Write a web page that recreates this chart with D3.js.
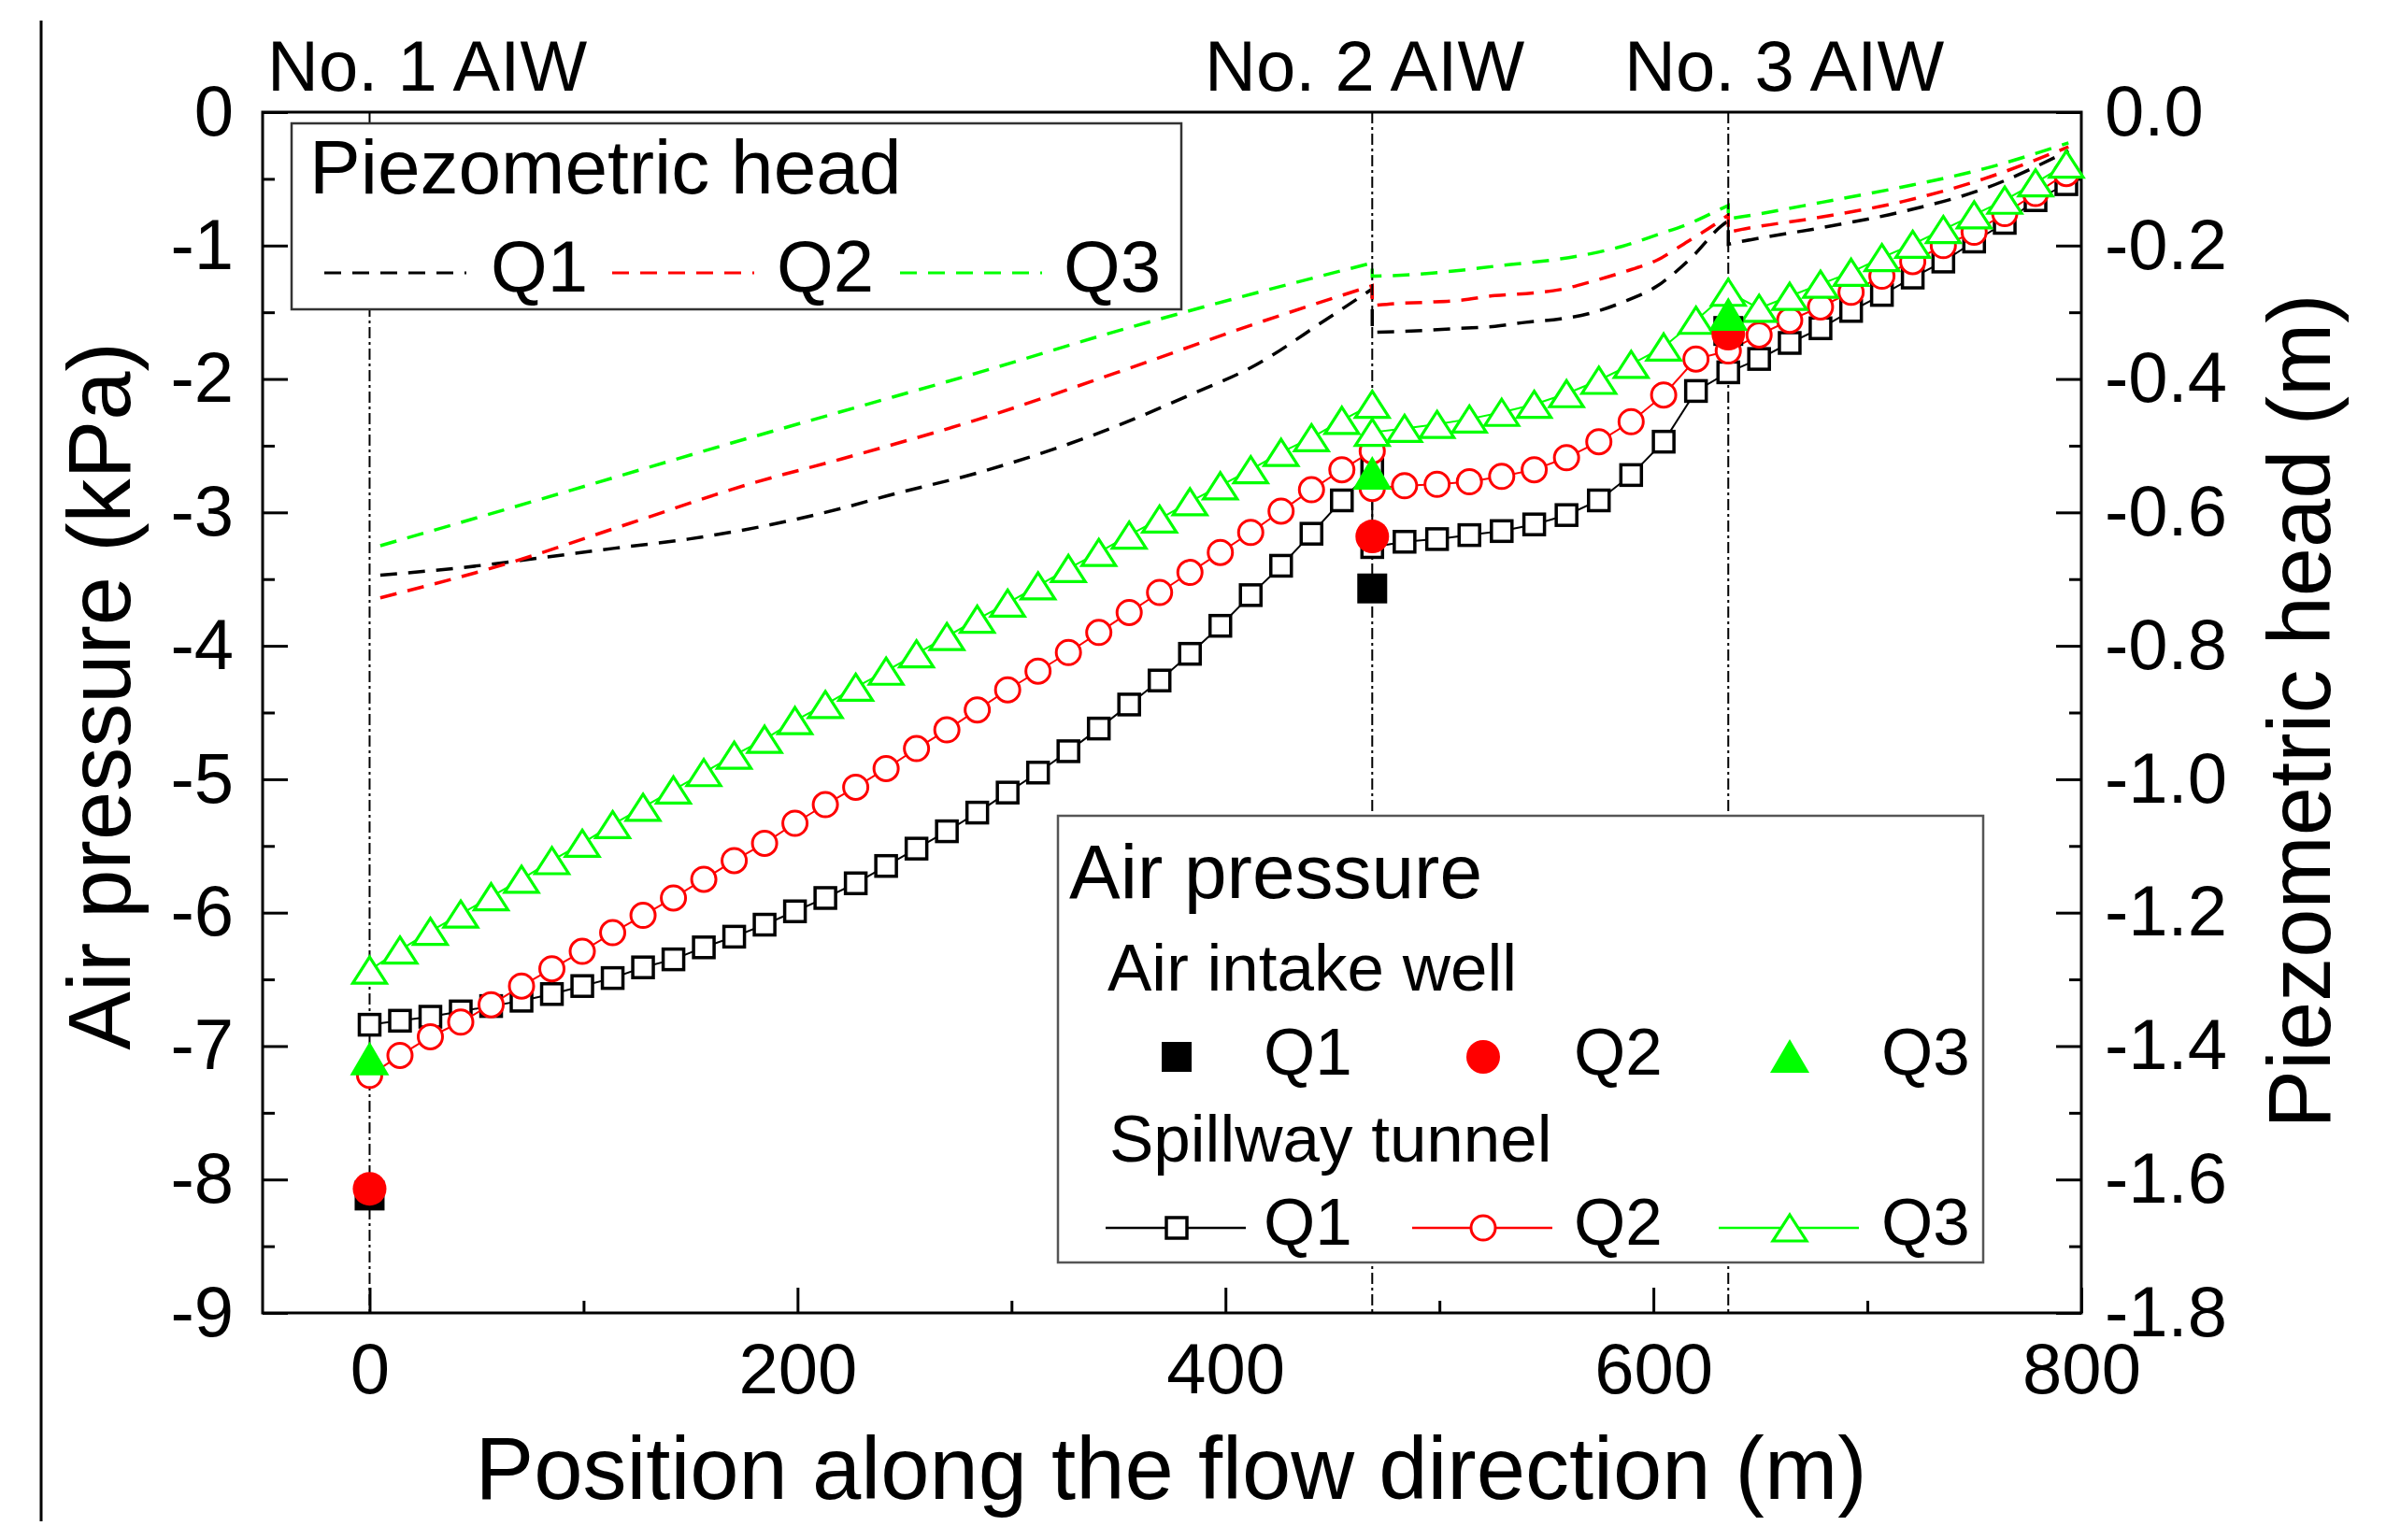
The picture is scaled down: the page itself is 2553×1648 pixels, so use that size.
<!DOCTYPE html>
<html><head><meta charset="utf-8">
<script src="https://cdn.jsdelivr.net/npm/d3@7"></script>
<style>
body{margin:0;background:#fff}
svg{display:block}
text{font-family:"Liberation Sans",Arial,Helvetica,sans-serif;fill:#000}
</style>
</head><body>
<svg id="chart" width="2553" height="1648"></svg>
<script>
// ---------------- DATA ----------------
// Spillway tunnel measuring positions (m); 468.6 appears twice (upstream / downstream of No. 2 AIW)
const tunnelX = [0, 14.2, 28.4, 42.6, 56.8, 71, 85.2, 99.4, 113.6, 127.8, 142, 156.2, 170.4, 184.6, 198.8,
  213, 227.2, 241.4, 255.6, 269.8, 284, 298.2, 312.4, 326.6, 340.8, 355, 369.2, 383.4, 397.6, 411.8, 426,
  440.2, 454.4, 468.6, 468.6, 483.7, 498.9, 514, 529.1, 544.3, 559.4, 574.5, 589.6, 604.8, 619.9, 635,
  649.4, 663.7, 678.1, 692.4, 706.8, 721.2, 735.5, 749.9, 764.2, 778.6, 793];
// Air pressure in spillway tunnel (kPa)
const tunnelQ1 = [-6.84, -6.81, -6.78, -6.74, -6.70, -6.66, -6.61, -6.55, -6.49, -6.41, -6.35, -6.26, -6.18, -6.09, -5.99,
  -5.89, -5.78, -5.65, -5.52, -5.39, -5.25, -5.10, -4.95, -4.79, -4.62, -4.44, -4.26, -4.06, -3.85, -3.62, -3.40,
  -3.16, -2.91, -2.68, -3.26, -3.22, -3.20, -3.17, -3.14, -3.09, -3.02, -2.91, -2.72, -2.47, -2.09, -1.95,
  -1.85, -1.73, -1.62, -1.49, -1.37, -1.24, -1.12, -0.97, -0.83, -0.66, -0.54];
const tunnelQ2 = [-7.22, -7.07, -6.93, -6.82, -6.69, -6.55, -6.42, -6.29, -6.15, -6.02, -5.89, -5.75, -5.61, -5.48, -5.33,
  -5.19, -5.06, -4.92, -4.77, -4.63, -4.48, -4.33, -4.19, -4.05, -3.90, -3.75, -3.60, -3.45, -3.30, -3.15, -2.99,
  -2.83, -2.68, -2.54, -2.82, -2.80, -2.79, -2.77, -2.73, -2.68, -2.59, -2.47, -2.32, -2.12, -1.85, -1.79,
  -1.67, -1.56, -1.46, -1.35, -1.23, -1.12, -1.00, -0.90, -0.76, -0.61, -0.46];
const tunnelQ3 = [-6.43, -6.28, -6.14, -6.01, -5.88, -5.75, -5.61, -5.48, -5.34, -5.21, -5.08, -4.95, -4.82, -4.70, -4.56,
  -4.44, -4.31, -4.19, -4.06, -3.93, -3.80, -3.68, -3.55, -3.42, -3.30, -3.17, -3.05, -2.92, -2.80, -2.68, -2.55,
  -2.44, -2.31, -2.19, -2.40, -2.37, -2.34, -2.30, -2.25, -2.19, -2.11, -2.01, -1.89, -1.76, -1.56, -1.35,
  -1.47, -1.38, -1.29, -1.20, -1.09, -0.99, -0.88, -0.77, -0.66, -0.53, -0.39];

// Air intake wells (AIW)
const aiwX = [0, 468.6, 635];
const aiwLabels = ["No. 1 AIW", "No. 2 AIW", "No. 3 AIW"];
const aiwQ1 = [-8.12, -3.57, -1.64];
const aiwQ2 = [-8.07, -3.18, -1.66];
const aiwQ3 = [-7.10, -2.71, -1.52];

// Piezometric head (m), right axis; repeated x = jump at an AIW
const piezoQ1X = [5, 42.5, 78, 113.8, 149, 185, 220.5, 242, 285, 349.6, 381.9, 414.2, 446.5, 468.6,
  468.6, 479.4, 494, 510, 526, 540.5, 556.5, 571, 585.6, 601.6, 617.5, 632, 635,
  635, 641, 679, 716.6, 754.4, 794];
const piezoQ1 = [-0.694, -0.683, -0.669, -0.654, -0.640, -0.620, -0.594, -0.575, -0.540, -0.470, -0.426, -0.379, -0.312, -0.265,
  -0.330, -0.329, -0.327, -0.324, -0.321, -0.315, -0.310, -0.301, -0.285, -0.261, -0.219, -0.170, -0.163,
  -0.198, -0.194, -0.173, -0.149, -0.115, -0.058];
const piezoQ2X = [5, 64, 121, 178, 220.4, 285, 349.6, 414.2, 468.6,
  468.6, 479.4, 494, 510, 526, 540.5, 556.5, 571, 585.6, 601.6, 616, 632, 635,
  635, 641, 679, 716.6, 754.4, 794];
const piezoQ2 = [-0.728, -0.677, -0.617, -0.557, -0.520, -0.460, -0.390, -0.317, -0.260,
  -0.290, -0.287, -0.285, -0.282, -0.275, -0.272, -0.266, -0.254, -0.240, -0.222, -0.194, -0.161, -0.154,
  -0.180, -0.176, -0.157, -0.134, -0.100, -0.052];
const piezoQ3X = [5, 78, 167, 220.4, 285, 349.6, 414.2, 468.6,
  468.6, 478, 494, 510, 526, 540.5, 556.5, 571, 585.6, 601.6, 616, 633.6, 635,
  635, 641, 679, 716.6, 754.4, 794];
const piezoQ3 = [-0.650, -0.582, -0.498, -0.449, -0.390, -0.328, -0.271, -0.226,
  -0.246, -0.245, -0.242, -0.237, -0.231, -0.226, -0.220, -0.212, -0.201, -0.184, -0.168, -0.142, -0.140,
  -0.160, -0.157, -0.135, -0.112, -0.085, -0.046];

// Axes ticks
const xTicks = [0, 200, 400, 600, 800];
const xMinor = [100, 300, 500, 700];
const yTicks = [0, -1, -2, -3, -4, -5, -6, -7, -8, -9];
const yMinor = [-0.5, -1.5, -2.5, -3.5, -4.5, -5.5, -6.5, -7.5, -8.5];
const yRTicks = [0, -0.2, -0.4, -0.6, -0.8, -1.0, -1.2, -1.4, -1.6, -1.8];
const yRMinor = [-0.1, -0.3, -0.5, -0.7, -0.9, -1.1, -1.3, -1.5, -1.7];

const seriesNames = ["Q1", "Q2", "Q3"];
const colors = ["#000000", "#ff0000", "#00ff00"];

// ---------------- CHART ----------------
const svg = d3.select("#chart");
const M = {l: 281, r: 2227, t: 120, b: 1405};
const x = d3.scaleLinear().domain([-50, 800]).range([M.l, M.r]);
const y = d3.scaleLinear().domain([-9, 0]).range([M.b, M.t]);
const yR = d3.scaleLinear().domain([-1.8, 0]).range([M.b, M.t]);

svg.append("rect").attr("width", 2553).attr("height", 1648).attr("fill", "#fff");
// outer border line at left of image
svg.append("line").attr("x1", 44).attr("x2", 44).attr("y1", 22).attr("y2", 1628)
  .attr("stroke", "#000").attr("stroke-width", 3);

// piezometric head dashed lines: smooth within each reach, vertical jump at AIWs
const piezo = [[piezoQ1X, piezoQ1], [piezoQ2X, piezoQ2], [piezoQ3X, piezoQ3]];
const lineR = d3.line().x(d => x(d[0])).y(d => yR(d[1])).curve(d3.curveMonotoneX);
piezo.forEach((p, i) => {
  const pts = d3.zip(p[0], p[1]);
  const segs = [[]];
  pts.forEach((pt, k) => {
    if (k > 0 && pt[0] === pts[k - 1][0]) segs.push([]);
    segs[segs.length - 1].push(pt);
  });
  const d = segs.map((s, k) => {
    const str = lineR(s);
    return k === 0 ? str : "L" + str.slice(1);
  }).join("");
  svg.append("path").attr("d", d)
    .attr("fill", "none").attr("stroke", colors[i]).attr("stroke-width", 3.5)
    .attr("stroke-dasharray", "18,12");
});

// AIW vertical dash-dot lines
svg.selectAll(".aiwline").data(aiwX).enter().append("line")
  .attr("x1", d => x(d)).attr("x2", d => x(d)).attr("y1", M.t).attr("y2", M.b)
  .attr("stroke", "#000").attr("stroke-width", 2).attr("stroke-dasharray", "12,4,3,4");

// AIW labels
const aiwLabelX = [286, 1289, 1738];
svg.selectAll(".aiwlab").data(aiwLabels).enter().append("text")
  .attr("x", (d, i) => aiwLabelX[i]).attr("y", 97).attr("font-size", 76).text(d => d);

// axes
function styleAxis(g, fs) {
  g.select(".domain").remove();
  g.selectAll(".tick line").attr("stroke", "#000").attr("stroke-width", 3);
  g.selectAll(".tick text").attr("font-size", fs).attr("fill", "#000")
    .style("font-family", '"Liberation Sans",Arial,sans-serif');
}
const gL = svg.append("g").attr("transform", `translate(${M.l},0)`)
  .call(d3.axisLeft(y).tickValues(yTicks).tickSize(-27).tickSizeOuter(0).tickPadding(31).tickFormat(d => String(d)));
styleAxis(gL, 76);
const gLm = svg.append("g").attr("transform", `translate(${M.l},0)`)
  .call(d3.axisLeft(y).tickValues(yMinor).tickSize(-13).tickSizeOuter(0).tickFormat(""));
styleAxis(gLm, 76);
const gR = svg.append("g").attr("transform", `translate(${M.r},0)`)
  .call(d3.axisRight(yR).tickValues(yRTicks).tickSize(-27).tickSizeOuter(0).tickPadding(25).tickFormat(d => d.toFixed(1)));
styleAxis(gR, 76);
const gRm = svg.append("g").attr("transform", `translate(${M.r},0)`)
  .call(d3.axisRight(yR).tickValues(yRMinor).tickSize(-13).tickSizeOuter(0).tickFormat(""));
styleAxis(gRm, 76);
const gB = svg.append("g").attr("transform", `translate(0,${M.b})`)
  .call(d3.axisBottom(x).tickValues(xTicks).tickSize(-27).tickSizeOuter(0).tickPadding(32).tickFormat(d => String(d)));
styleAxis(gB, 76);
const gBm = svg.append("g").attr("transform", `translate(0,${M.b})`)
  .call(d3.axisBottom(x).tickValues(xMinor).tickSize(-13).tickSizeOuter(0).tickFormat(""));
styleAxis(gBm, 76);

// frame
svg.append("rect").attr("x", M.l).attr("y", M.t).attr("width", M.r - M.l).attr("height", M.b - M.t)
  .attr("fill", "none").attr("stroke", "#000").attr("stroke-width", 3);

// axis titles
svg.append("text").attr("x", (502 + 2004) / 2).attr("y", 1604).attr("text-anchor", "middle")
  .attr("font-size", 94).text("Position along the flow direction (m)");
svg.append("text").attr("transform", "translate(139,745) rotate(-90)").attr("text-anchor", "middle")
  .attr("font-size", 94).text("Air pressure (kPa)");
svg.append("text").attr("transform", "translate(2493,761) rotate(-90)").attr("text-anchor", "middle")
  .attr("font-size", 94).text("Piezometric head (m)");

// marker helpers
function openMarker(g, type, cx, cy, color) {
  if (type === 0) {
    g.append("rect").attr("x", cx - 11).attr("y", cy - 11).attr("width", 22).attr("height", 22)
      .attr("fill", "#fff").attr("stroke", color).attr("stroke-width", 3.5);
  } else if (type === 1) {
    g.append("circle").attr("cx", cx).attr("cy", cy).attr("r", 13)
      .attr("fill", "#fff").attr("stroke", color).attr("stroke-width", 3);
  } else {
    g.append("path").attr("d", `M${cx},${cy - 14}L${cx + 18},${cy + 14}L${cx - 18},${cy + 14}Z`)
      .attr("fill", "#fff").attr("stroke", color).attr("stroke-width", 3.2).attr("stroke-linejoin", "miter");
  }
}
function filledMarker(g, type, cx, cy, color) {
  if (type === 0) {
    g.append("rect").attr("x", cx - 16).attr("y", cy - 16).attr("width", 32).attr("height", 32).attr("fill", color);
  } else if (type === 1) {
    g.append("circle").attr("cx", cx).attr("cy", cy).attr("r", 18).attr("fill", color);
  } else {
    g.append("path").attr("d", `M${cx},${cy - 19}L${cx + 21},${cy + 17}L${cx - 21},${cy + 17}Z`).attr("fill", color);
  }
}

// tunnel series
const tunnel = [tunnelQ1, tunnelQ2, tunnelQ3];
const lineL = d3.line().x(d => x(d[0])).y(d => y(d[1]));
tunnel.forEach((vals, i) => {
  const g = svg.append("g");
  const pts = d3.zip(tunnelX, vals);
  g.append("path").attr("d", lineL(pts)).attr("fill", "none").attr("stroke", colors[i]).attr("stroke-width", 2);
  pts.forEach(p => openMarker(g, i, x(p[0]), y(p[1]), colors[i]));
});

// AIW points
const aiw = [aiwQ1, aiwQ2, aiwQ3];
aiw.forEach((vals, i) => {
  const g = svg.append("g");
  vals.forEach((v, k) => filledMarker(g, i, x(aiwX[k]), y(v), colors[i]));
});

// ---------------- LEGENDS ----------------
// Piezometric head legend
const lg1 = svg.append("g");
lg1.append("rect").attr("x", 312).attr("y", 132).attr("width", 952).attr("height", 199)
  .attr("fill", "#fff").attr("stroke", "#333").attr("stroke-width", 2.5);
lg1.append("text").attr("x", 331).attr("y", 207).attr("font-size", 82).text("Piezometric head");
const lg1Sx = [347, 655, 963], lg1Tx = [525, 831, 1138];
seriesNames.forEach((n, i) => {
  lg1.append("line").attr("x1", lg1Sx[i]).attr("x2", lg1Sx[i] + 152).attr("y1", 292).attr("y2", 292)
    .attr("stroke", colors[i]).attr("stroke-width", 3).attr("stroke-dasharray", "18,12");
  lg1.append("text").attr("x", lg1Tx[i]).attr("y", 312).attr("font-size", 78).text(n);
});

// Air pressure legend
const lg2 = svg.append("g");
lg2.append("rect").attr("x", 1132).attr("y", 873).attr("width", 990).attr("height", 478)
  .attr("fill", "#fff").attr("stroke", "#555").attr("stroke-width", 2.5);
lg2.append("text").attr("x", 1144).attr("y", 961).attr("font-size", 82).text("Air pressure");
lg2.append("text").attr("x", 1185).attr("y", 1060).attr("font-size", 71).text("Air intake well");
lg2.append("text").attr("x", 1187).attr("y", 1243).attr("font-size", 71).text("Spillway tunnel");
const lg2Mx = [1259, 1587, 1915], lg2Tx = [1352, 1684, 2013];
seriesNames.forEach((n, i) => {
  filledMarker(lg2, i, lg2Mx[i], 1131, colors[i]);
  lg2.append("text").attr("x", lg2Tx[i]).attr("y", 1150).attr("font-size", 71).text(n);
  lg2.append("line").attr("x1", lg2Mx[i] - 76).attr("x2", lg2Mx[i] + 74).attr("y1", 1314).attr("y2", 1314)
    .attr("stroke", colors[i]).attr("stroke-width", 2.5);
  openMarker(lg2, i, lg2Mx[i], 1314, colors[i]);
  lg2.append("text").attr("x", lg2Tx[i]).attr("y", 1332).attr("font-size", 71).text(n);
});
</script>
</body></html>
